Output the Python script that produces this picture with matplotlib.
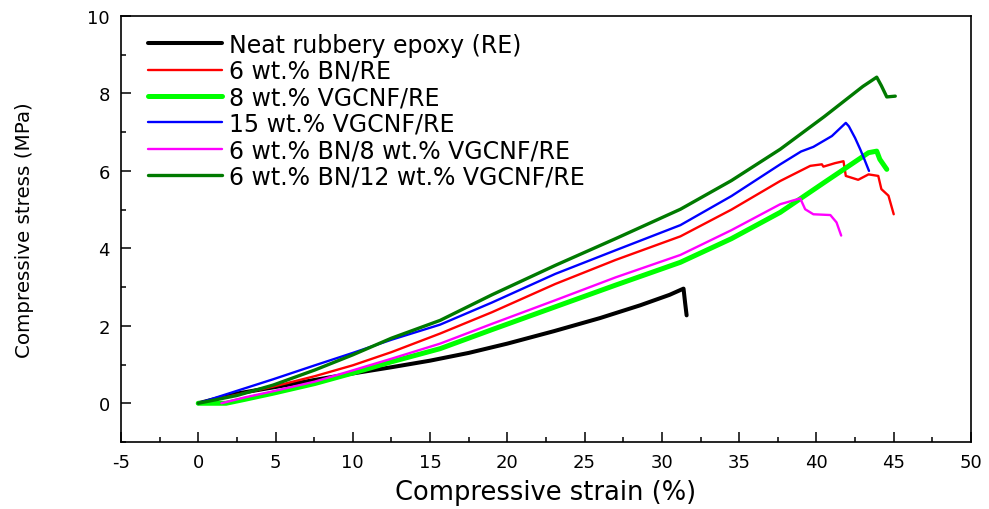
import matplotlib
matplotlib.use("Agg")
import matplotlib.pyplot as plt
from matplotlib.ticker import MultipleLocator

plt.rcParams['font.family'] = ['DejaVu Sans']
plt.rcParams['axes.unicode_minus'] = False

labels = ["Neat rubbery epoxy (RE)", "6 wt.% BN/RE", "8 wt.% VGCNF/RE",
          "15 wt.% VGCNF/RE", "6 wt.% BN/8 wt.% VGCNF/RE", "6 wt.% BN/12 wt.% VGCNF/RE"]
colors = ["#000000", "#ff0000", "#00ff00", "#0000ff", "#ff00ff", "#007a00"]
widths = [2.9, 1.7, 3.6, 1.7, 1.7, 2.4]

re_x = [0, 0.8, 2.5, 5, 7.5, 10, 12.5, 15, 17.5, 20, 23, 26, 28.6, 30.5, 31.4, 31.5, 31.6]
re_y = [0, 0.08, 0.25, 0.42, 0.6, 0.77, 0.93, 1.1, 1.3, 1.54, 1.86, 2.2, 2.53, 2.8, 2.96, 2.6, 2.27]

bn_x = [0, 1, 2.5, 4.85, 7.55, 10, 12.5, 15.65, 19, 23.1, 27, 31.2, 34.5, 37.66, 39.6, 40.35,
        40.45, 41.2, 41.75, 41.9, 42.7, 43.37, 44.0, 44.2, 44.66, 45.0]
bn_y = [0, 0.09, 0.22, 0.43, 0.7, 0.98, 1.32, 1.8, 2.35, 3.08, 3.7, 4.31, 5.0, 5.74, 6.13, 6.17,
        6.11, 6.2, 6.25, 5.87, 5.77, 5.91, 5.87, 5.53, 5.36, 4.88]

v8_x = [0, 1.8, 3, 4.85, 7.55, 10, 12.5, 15.65, 19, 23.1, 27, 31.2, 34.5, 37.66, 40.5, 43.37,
        43.9, 44.1, 44.55]
v8_y = [0, 0, 0.1, 0.26, 0.51, 0.78, 1.07, 1.41, 1.9, 2.49, 3.05, 3.64, 4.25, 4.93, 5.7, 6.47,
        6.51, 6.3, 6.04]

v15_x = [0, 2.5, 4.85, 7.55, 10, 12.5, 15.65, 19, 23.1, 27, 31.2, 34.5, 37.66, 39.0, 39.8, 41.0,
         41.9, 42.1, 42.5, 42.83, 43.1, 43.4]
v15_y = [0, 0.32, 0.62, 0.98, 1.3, 1.64, 2.03, 2.6, 3.34, 3.95, 4.6, 5.35, 6.17, 6.5, 6.62, 6.9,
         7.24, 7.15, 6.85, 6.56, 6.3, 6.0]

bn8_x = [1.5, 3, 4.85, 7.55, 10, 12.5, 15.65, 19, 23.1, 27, 31.2, 34.5, 37.66, 38.95, 39.27,
         39.8, 40.9, 41.3, 41.6]
bn8_y = [0, 0.15, 0.31, 0.56, 0.85, 1.15, 1.54, 2.05, 2.66, 3.25, 3.83, 4.47, 5.14, 5.29, 5.01,
         4.88, 4.86, 4.67, 4.33]

bn12_x = [0, 2.5, 4.85, 7.55, 10, 12.5, 15.65, 19, 23.1, 27, 31.2, 34.5, 37.66, 40.5, 43.0,
          43.9, 44.2, 44.55, 45.1]
bn12_y = [0, 0.2, 0.47, 0.86, 1.25, 1.68, 2.14, 2.8, 3.56, 4.25, 5.01, 5.75, 6.56, 7.4, 8.18,
          8.42, 8.2, 7.91, 7.93]

series = [(re_x, re_y), (bn_x, bn_y), (v8_x, v8_y), (v15_x, v15_y), (bn8_x, bn8_y), (bn12_x, bn12_y)]

fig = plt.figure(figsize=(9.89, 5.10), dpi=100)
ax = fig.add_axes([0.1223, 0.1314, 0.8595, 0.8353])

for (x, y), lab, c, w in zip(series, labels, colors, widths):
    ax.plot(x, y, color=c, lw=w, label=lab, solid_joinstyle='round', solid_capstyle='round')

ax.set_xlim(-5, 50)
ax.set_ylim(-1, 10)
ax.xaxis.set_major_locator(MultipleLocator(5))
ax.xaxis.set_minor_locator(MultipleLocator(2.5))
ax.yaxis.set_major_locator(MultipleLocator(2))
ax.yaxis.set_minor_locator(MultipleLocator(1))
ax.tick_params(which='both', direction='in', top=False, right=False, width=1.1)
ax.tick_params(which='major', length=7, labelsize=13, pad=8)
ax.tick_params(which='minor', length=3.5)
for s in ax.spines.values():
    s.set_linewidth(1.2)

ax.set_xlabel("Compressive strain (%)", fontsize=18.5, labelpad=6)
ax.set_ylabel("Compressive stress (MPa)", fontsize=14.3, labelpad=38)

leg = ax.legend(loc='upper left', bbox_to_anchor=(0.032, 0.961), frameon=False,
                fontsize=17, handlelength=3.13, handletextpad=0.3, labelspacing=0.1,
                borderpad=0, borderaxespad=0)

fig.savefig("out.png", dpi=100)
